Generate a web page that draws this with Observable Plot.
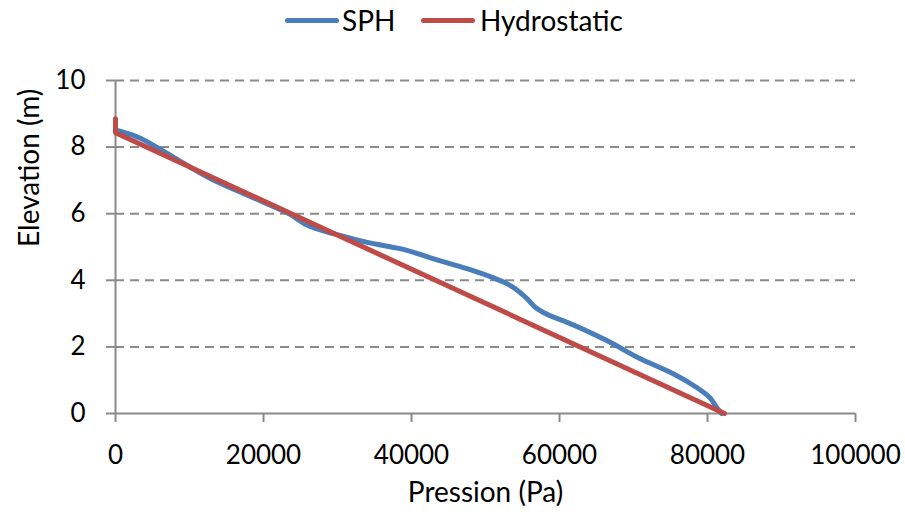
<!DOCTYPE html>
<html>
<head>
<meta charset="utf-8">
<script src="https://cdn.jsdelivr.net/npm/d3@7"></script>
<script src="https://cdn.jsdelivr.net/npm/@observablehq/plot@0.6"></script>
<style>
  html, body { margin: 0; padding: 0; background: #fff; }
  body { width: 905px; height: 519px; overflow: hidden; font-family: Lato, "Open Sans", sans-serif; }
  #legend { height: 40px; position: relative; font-size: 28px; color: #000; }
  .sw { position: absolute; top: 18px; width: 54px; height: 5px; border-radius: 3px; }
  .lbl { position: absolute; top: 0; height: 40px; line-height: 40px; }
</style>
</head>
<body>
<div id="legend"></div>
<div id="chart"></div>
<script>
// Series: SPH pressure (Pa) vs elevation (m)
const sphPressure = [200, 2430, 5130, 8100, 12800, 18200, 23600, 26300, 28300, 30360, 34000, 38460, 42900, 47500, 51000, 52900, 55600, 56950, 58700, 60460, 66400, 70850, 75300, 78540, 80300, 81240, 81900];
const sphElevation = [8.50, 8.35, 8.05, 7.66, 7.06, 6.52, 5.98, 5.62, 5.47, 5.35, 5.14, 4.95, 4.65, 4.35, 4.08, 3.90, 3.45, 3.15, 2.94, 2.79, 2.19, 1.65, 1.20, 0.78, 0.48, 0.18, 0.0];
// Series: Hydrostatic
const hydroPressure = [0, 0, 82300];
const hydroElevation = [8.85, 8.43, 0];

const seriesNames = ["SPH", "Hydrostatic"];
const seriesColors = ["#4a7ebb", "#be4b48"];
const xTicks = [0, 20000, 40000, 60000, 80000, 100000];
const yTicks = [0, 2, 4, 6, 8, 10];
const xTitle = "Pression (Pa)";
const yTitle = "Elevation (m)";

const sph = sphPressure.map((p, i) => ({p, z: sphElevation[i]}));
const hydro = hydroPressure.map((p, i) => ({p, z: hydroElevation[i]}));

// Legend (above the SVG)
const legend = document.getElementById("legend");
const swatchX = [285, 421];
const labelX = [342, 480];
seriesNames.forEach((name, i) => {
  const sw = document.createElement("div");
  sw.className = "sw";
  sw.style.left = swatchX[i] + "px";
  sw.style.background = seriesColors[i];
  const t = document.createElement("div");
  t.className = "lbl";
  t.style.left = labelX[i] + "px";
  t.textContent = name;
  legend.appendChild(sw);
  legend.appendChild(t);
});

const gray = "#8a8a8a";
const chart = Plot.plot({
  width: 905,
  height: 479,
  marginTop: 40,
  marginBottom: 106,
  marginLeft: 115,
  marginRight: 50,
  style: {fontFamily: "Lato, 'Open Sans', sans-serif", fontSize: "26px", color: "#000", background: "#fff"},
  x: {domain: [0, 100000]},
  y: {domain: [0, 10]},
  marks: [
    Plot.gridY(yTicks.filter(d => d > 0), {stroke: gray, strokeOpacity: 1, strokeWidth: 2, strokeDasharray: "9,6"}),
    Plot.axisX(xTicks, {tickSize: 9, tickPadding: 23, stroke: gray, strokeWidth: 2, fontSize: 26, tickFormat: d => String(d), label: null}),
    Plot.axisY(yTicks, {tickSize: 9, tickPadding: 21, stroke: gray, strokeWidth: 2, fontSize: 26, tickFormat: d => String(d), label: null}),
    Plot.ruleY([0], {stroke: gray, strokeWidth: 2}),
    Plot.ruleX([0], {stroke: gray, strokeWidth: 2}),
    Plot.line(sph, {x: "p", y: "z", stroke: seriesColors[0], strokeWidth: 5, curve: "monotone-y"}),
    Plot.line(hydro, {x: "p", y: "z", stroke: seriesColors[1], strokeWidth: 5}),
    Plot.text([xTitle], {frameAnchor: "bottom", dy: 88, fontSize: 28, fill: "#000"}),
    Plot.text([yTitle], {frameAnchor: "left", dx: -85, rotate: -90, fontSize: 28, fill: "#000"})
  ]
});
document.getElementById("chart").appendChild(chart);
</script>
</body>
</html>
